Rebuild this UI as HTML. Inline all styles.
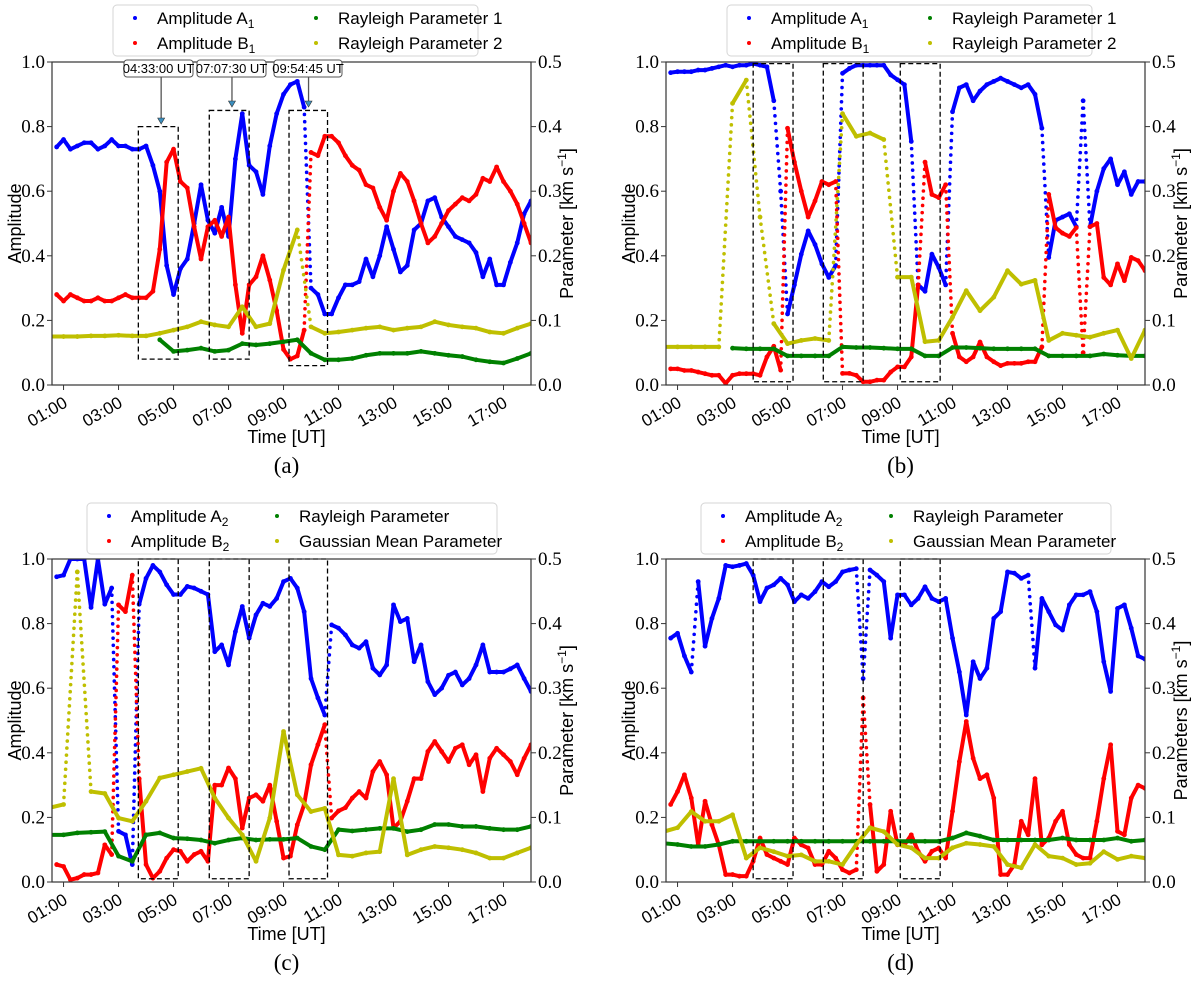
<!DOCTYPE html>
<html><head><meta charset="utf-8">
<style>
html,body{margin:0;padding:0;background:#fff;}
svg{display:block;}
.tk{font-family:"Liberation Serif",serif;font-size:19px;fill:#000;}
.tt{font-family:"Liberation Sans",sans-serif;font-size:17px;fill:#000;}
.lb{font-family:"Liberation Sans",sans-serif;font-size:18px;fill:#000;}
.lg{font-family:"Liberation Sans",sans-serif;font-size:17px;fill:#000;}
.cap{font-family:"Liberation Serif",serif;font-size:23px;fill:#000;}
.an{font-family:"Liberation Sans",sans-serif;font-size:13px;fill:#000;}
</style></head>
<body>
<svg id="fig" width="1200" height="983" viewBox="0 0 1200 983" xmlns="http://www.w3.org/2000/svg"></svg>
<script>
// ---- categories (time in hours, UT) ----
const tAmp = []; for (let k = 0; k < 70; k++) tAmp.push(0.75 + 0.25 * k);
const tPar = []; for (let k = 0; k < 36; k++) tPar.push(0.5 + 0.5 * k);
const timeTicks = [1,3,5,7,9,11,13,15,17];
const timeTickLabels = ["01:00","03:00","05:00","07:00","09:00","11:00","13:00","15:00","17:00"];
const ampTicks = [0,0.2,0.4,0.6,0.8,1.0];
const ampTickLabels = ["0.0","0.2","0.4","0.6","0.8","1.0"];
const parTicks = [0,0.1,0.2,0.3,0.4,0.5];
const parTickLabels = ["0.0","0.1","0.2","0.3","0.4","0.5"];

// ---- panel (a) ----
const aAmpA = [0.737,0.76,0.73,0.74,0.75,0.75,0.73,0.74,0.76,0.74,0.74,0.73,0.73,0.74,0.68,0.6,0.37,0.28,0.36,0.39,0.5,0.62,0.51,0.47,0.55,0.46,0.7,0.84,0.68,0.66,0.59,0.74,0.84,0.9,0.93,0.94,0.86,0.3,0.28,0.22,0.22,0.27,0.31,0.31,0.32,0.39,0.335,0.4,0.49,0.42,0.35,0.37,0.48,0.5,0.57,0.58,0.52,0.49,0.46,0.45,0.44,0.41,0.335,0.39,0.31,0.31,0.38,0.44,0.53,0.57];
const aAmpB = [0.28,0.26,0.28,0.27,0.26,0.26,0.27,0.26,0.26,0.27,0.28,0.27,0.27,0.27,0.29,0.42,0.69,0.73,0.63,0.61,0.49,0.39,0.49,0.51,0.46,0.52,0.31,0.16,0.31,0.335,0.4,0.325,0.23,0.11,0.08,0.09,0.17,0.72,0.71,0.77,0.77,0.75,0.71,0.68,0.665,0.62,0.61,0.55,0.51,0.6,0.655,0.63,0.57,0.5,0.44,0.46,0.5,0.54,0.56,0.58,0.57,0.59,0.64,0.63,0.675,0.63,0.6,0.56,0.5,0.44];
const aPar1 = [null,null,null,null,null,null,null,null,0.07,0.052,0.054,0.057,0.052,0.054,0.064,0.062,0.064,0.067,0.07,0.049,0.039,0.039,0.041,0.046,0.049,0.049,0.049,0.052,0.049,0.046,0.044,0.039,0.036,0.034,0.041,0.049];
const aPar2 = [0.075,0.075,0.075,0.076,0.076,0.077,0.076,0.076,0.08,0.085,0.09,0.098,0.093,0.09,0.121,0.09,0.095,0.178,0.24,0.09,0.08,0.082,0.085,0.088,0.09,0.085,0.088,0.09,0.098,0.093,0.09,0.088,0.082,0.08,0.088,0.095];

// ---- panel (b) ----
const bAmpA = [0.967,0.97,0.97,0.97,0.975,0.975,0.98,0.985,0.99,0.985,0.99,0.99,0.995,0.99,0.985,0.88,0.6,0.22,0.31,0.405,0.477,0.435,0.375,0.333,0.37,0.965,0.98,0.99,0.99,0.99,0.99,0.99,0.96,0.945,0.93,0.754,0.31,0.29,0.405,0.364,0.31,0.846,0.92,0.93,0.88,0.91,0.93,0.94,0.95,0.94,0.93,0.92,0.93,0.9,0.795,0.395,0.51,0.52,0.53,0.49,0.88,0.49,0.6,0.67,0.7,0.62,0.66,0.59,0.63,0.63];
const bAmpB = [0.05,0.05,0.045,0.045,0.04,0.035,0.03,0.03,0.005,0.03,0.035,0.035,0.035,0.03,0.087,0.12,0.046,0.795,0.69,0.6,0.52,0.57,0.63,0.62,0.63,0.036,0.036,0.03,0.01,0.01,0.015,0.015,0.04,0.056,0.056,0.087,0.31,0.69,0.59,0.58,0.62,0.16,0.087,0.072,0.087,0.133,0.087,0.072,0.06,0.067,0.067,0.067,0.072,0.072,0.118,0.59,0.487,0.47,0.46,0.487,0.1,0.49,0.5,0.333,0.31,0.375,0.323,0.395,0.385,0.354];
const bPar1 = [null,null,null,null,null,0.057,0.056,0.056,0.056,0.045,0.045,0.045,0.045,0.059,0.058,0.058,0.057,0.056,0.056,0.045,0.045,0.058,0.058,0.057,0.056,0.056,0.056,0.056,0.045,0.045,0.045,0.045,0.048,0.046,0.045,0.045];
const bPar2 = [0.059,0.059,0.059,0.059,0.059,0.436,0.472,0.26,0.095,0.064,0.069,0.072,0.069,0.42,0.385,0.39,0.38,0.167,0.167,0.067,0.069,0.105,0.146,0.115,0.136,0.177,0.156,0.162,0.069,0.08,0.077,0.074,0.08,0.085,0.041,0.085];

// ---- panel (c) ----
const cAmpA = [0.945,0.95,1.0,1.0,1.0,0.85,1.0,0.86,0.91,0.157,0.146,0.054,0.86,0.94,0.98,0.96,0.92,0.89,0.89,0.915,0.91,0.9,0.89,0.713,0.734,0.672,0.775,0.853,0.755,0.827,0.863,0.853,0.878,0.93,0.94,0.91,0.837,0.63,0.57,0.517,0.796,0.786,0.765,0.734,0.724,0.744,0.662,0.641,0.672,0.858,0.806,0.816,0.682,0.734,0.62,0.58,0.6,0.64,0.65,0.61,0.63,0.672,0.734,0.65,0.65,0.65,0.66,0.672,0.63,0.59];
const cAmpB = [0.054,0.048,0.007,0.012,0.023,0.023,0.028,0.115,0.085,0.858,0.837,0.95,0.32,0.054,0.012,0.033,0.074,0.1,0.095,0.064,0.085,0.095,0.064,0.3,0.3,0.353,0.32,0.167,0.26,0.27,0.25,0.3,0.188,0.074,0.08,0.177,0.24,0.363,0.425,0.487,0.198,0.22,0.23,0.26,0.28,0.26,0.342,0.373,0.332,0.167,0.188,0.25,0.32,0.32,0.404,0.435,0.404,0.373,0.414,0.425,0.363,0.394,0.28,0.383,0.414,0.394,0.373,0.332,0.383,0.425];
const cPar1 = [0.073,0.073,0.076,0.077,0.078,0.04,0.032,0.073,0.076,0.068,0.067,0.065,0.06,0.065,0.068,0.065,0.066,0.066,0.068,0.055,0.05,0.081,0.079,0.081,0.083,0.083,0.078,0.081,0.089,0.089,0.086,0.086,0.083,0.081,0.081,0.086];
const cPar2 = [0.115,0.12,0.48,0.14,0.137,0.099,0.094,0.125,0.161,0.166,0.171,0.176,0.13,0.099,0.073,0.032,0.099,0.233,0.135,0.109,0.114,0.042,0.04,0.045,0.047,0.16,0.042,0.05,0.055,0.053,0.05,0.045,0.037,0.037,0.045,0.053];

// ---- panel (d) ----
const dAmpA = [0.755,0.77,0.7,0.65,0.93,0.73,0.816,0.878,0.98,0.976,0.98,0.986,0.95,0.868,0.91,0.92,0.94,0.92,0.868,0.889,0.878,0.899,0.93,0.914,0.93,0.96,0.966,0.97,0.63,0.966,0.95,0.93,0.755,0.889,0.889,0.858,0.878,0.914,0.878,0.868,0.878,0.755,0.65,0.517,0.682,0.63,0.662,0.816,0.837,0.96,0.956,0.94,0.95,0.662,0.878,0.837,0.796,0.78,0.858,0.889,0.889,0.899,0.837,0.682,0.59,0.847,0.858,0.786,0.7,0.69];
const dAmpB = [0.24,0.28,0.332,0.26,0.115,0.25,0.177,0.115,0.023,0.023,0.018,0.018,0.064,0.136,0.085,0.074,0.064,0.054,0.136,0.115,0.105,0.054,0.054,0.095,0.074,0.038,0.028,0.038,0.57,0.24,0.033,0.054,0.219,0.115,0.115,0.146,0.095,0.064,0.095,0.105,0.074,0.219,0.373,0.497,0.383,0.32,0.332,0.26,0.023,0.023,0.054,0.188,0.146,0.32,0.115,0.136,0.188,0.219,0.115,0.085,0.074,0.074,0.188,0.32,0.425,0.157,0.146,0.26,0.3,0.29];
const dPar1 = [0.06,0.058,0.055,0.055,0.058,0.063,0.063,0.063,0.063,0.063,0.063,0.063,0.063,0.063,0.063,0.063,0.063,0.063,0.063,0.063,0.063,0.068,0.076,0.071,0.065,0.065,0.065,0.065,0.065,0.068,0.065,0.065,0.065,0.068,0.063,0.065];
const dPar2 = [0.078,0.084,0.109,0.094,0.094,0.104,0.037,0.053,0.047,0.04,0.042,0.032,0.032,0.027,0.058,0.084,0.078,0.058,0.053,0.037,0.037,0.053,0.06,0.058,0.055,0.027,0.022,0.058,0.04,0.037,0.027,0.029,0.047,0.035,0.04,0.037];

const NS = "http://www.w3.org/2000/svg";
const svg = document.getElementById("fig");
function mk(tag, attrs, parent) {
  const e = document.createElementNS(NS, tag);
  for (const k in attrs) e.setAttribute(k, attrs[k]);
  (parent || svg).appendChild(e);
  return e;
}
const COL = {A:"#0000ff", B:"#ff0000", P1:"#008000", P2:"#bfbf00"};
const T0 = 0.58, T1 = 18.0;

const panels = [
  {id:"a", L:52, R:531, T:62, B:385, A:aAmpA, Bv:aAmpB, P1:aPar1, P2:aPar2,
   leg:["Amplitude A","Amplitude B","Rayleigh Parameter 1","Rayleigh Parameter 2"], sub:"1", right:"Parameter",
   boxes:[[3.72,5.17,0.8],[6.3,7.75,0.85],[9.2,10.6,0.85]], bb:[0.08,0.08,0.06]},
  {id:"b", L:666, R:1145, T:62, B:385, A:bAmpA, Bv:bAmpB, P1:bPar1, P2:bPar2,
   leg:["Amplitude A","Amplitude B","Rayleigh Parameter 1","Rayleigh Parameter 2"], sub:"1", right:"Parameter",
   boxes:[[3.75,5.2,0.995],[6.3,7.75,0.995],[9.1,10.55,0.995]], bb:[0.01,0.01,0.01]},
  {id:"c", L:52, R:531, T:559, B:882, A:cAmpA, Bv:cAmpB, P1:cPar1, P2:cPar2,
   leg:["Amplitude A","Amplitude B","Rayleigh Parameter","Gaussian Mean Parameter"], sub:"2", right:"Parameter",
   boxes:[[3.72,5.17,1.0],[6.3,7.75,1.0],[9.2,10.6,1.0]], bb:[0.01,0.01,0.01]},
  {id:"d", L:666, R:1145, T:559, B:882, A:dAmpA, Bv:dAmpB, P1:dPar1, P2:dPar2,
   leg:["Amplitude A","Amplitude B","Rayleigh Parameter","Gaussian Mean Parameter"], sub:"2", right:"Parameters",
   boxes:[[3.75,5.2,1.0],[6.3,7.75,1.0],[9.1,10.55,1.0]], bb:[0.01,0.01,0.01]}
];

function drawSeries(g, times, vals, xf, yf, color, name) {
  const sg = mk("g", {}, g);
  
  
  let prev = null;
  for (let i = 0; i < vals.length; i++) {
    if (vals[i] === null) { prev = null; continue; }
    const x = xf(times[i]), y = yf(vals[i]);
    if (prev) {
      const dy = Math.abs(prev[1] - y);
      if (dy < 90) {
        const ln = mk("line", {x1:prev[0], y1:prev[1], x2:x, y2:y, stroke:color, "stroke-width":4, "stroke-linecap":"round"}, sg);
        
        
      } else {
        const n = Math.floor(dy / 7);
        for (let k = 1; k < n; k++) {
          const f = k / n;
          const d = mk("circle", {cx:prev[0] + (x - prev[0]) * f, cy:prev[1] + (y - prev[1]) * f, r:1.8, fill:color}, sg);
          
          
        }
      }
    }
    const c = mk("circle", {cx:x, cy:y, r:2.4, fill:color}, sg);
    
    
    prev = [x, y];
  }
}

panels.forEach(p => {
  const g = mk("g", {});
  
  
  const xf = t => p.L + (t - T0) / (T1 - T0) * (p.R - p.L);
  const yA = v => p.B - v * (p.B - p.T);
  const yP = v => p.B - v / 0.5 * (p.B - p.T);
  const cp = mk("clipPath", {id:"clip-" + p.id}, g);
  mk("rect", {x:p.L, y:p.T, width:p.R - p.L, height:p.B - p.T}, cp);
  const plot = mk("g", {"clip-path":"url(#clip-" + p.id + ")"}, g);
  
  
  drawSeries(plot, tAmp, p.A, xf, yA, COL.A, 'series-amplitude-a-' + p.id);
  drawSeries(plot, tAmp, p.Bv, xf, yA, COL.B, 'series-amplitude-b-' + p.id);
  drawSeries(plot, tPar, p.P1, xf, yP, COL.P1, 'series-parameter-1-' + p.id);
  drawSeries(plot, tPar, p.P2, xf, yP, COL.P2, 'series-parameter-2-' + p.id);
  p.boxes.forEach((b, i) => {
    const r = mk("rect", {x:xf(b[0]), y:yA(b[2]), width:xf(b[1]) - xf(b[0]), height:yA(p.bb[i]) - yA(b[2]), fill:"none", stroke:"#000", "stroke-width":1.3, "stroke-dasharray":"5,3"}, g);
    
    
  });
  const fr = mk("rect", {x:p.L, y:p.T, width:p.R - p.L, height:p.B - p.T, fill:"none", stroke:"#333", "stroke-width":1.2}, g);
  
  
  ampTicks.forEach((v, i) => {
    const y = yA(v);
    mk("line", {x1:p.L - 5, y1:y, x2:p.L, y2:y, stroke:"#333", "stroke-width":1}, g);
    const t = mk("text", {x:p.L - 7, y:y + 6, "text-anchor":"end", class:"tk"}, g);
    t.textContent = ampTickLabels[i];
    
    
  });
  parTicks.forEach((v, i) => {
    const y = yP(v);
    mk("line", {x1:p.R, y1:y, x2:p.R + 5, y2:y, stroke:"#333", "stroke-width":1}, g);
    const t = mk("text", {x:p.R + 7, y:y + 6, "text-anchor":"start", class:"tk"}, g);
    t.textContent = parTickLabels[i];
    
    
  });
  timeTicks.forEach((v, i) => {
    const x = xf(v);
    mk("line", {x1:x, y1:p.B, x2:x, y2:p.B + 5, stroke:"#333", "stroke-width":1}, g);
    const t = mk("text", {x:0, y:0, "text-anchor":"end", class:"tt", transform:"translate(" + (x + 5) + "," + (p.B + 21) + ") rotate(-30)"}, g);
    t.textContent = timeTickLabels[i];
    
    
  });
  const xl = mk("text", {x:(p.L + p.R) / 2 - 5, y:p.B + 58, "text-anchor":"middle", class:"lb"}, g);
  xl.textContent = "Time [UT]";
  
  
  const yl = mk("text", {x:0, y:0, "text-anchor":"middle", class:"lb", transform:"translate(" + (p.L - 31) + "," + ((p.T + p.B) / 2) + ") rotate(-90)"}, g);
  yl.textContent = "Amplitude";
  
  
  const yr = mk("text", {x:0, y:0, "text-anchor":"middle", class:"lb", transform:"translate(" + (p.R + 42) + "," + ((p.T + p.B) / 2) + ") rotate(-90)"}, g);
  yr.innerHTML = p.right + ' [km s<tspan dy="-7" font-size="12">−1</tspan><tspan dy="7">]</tspan>';
  
  
  const lx = p.L + (p.id === "a" || p.id === "b" ? 61 : 35);
  const lw = (p.id === "a" || p.id === "b") ? 365 : 410;
  const ly = p.id === "a" || p.id === "b" ? 5 : 503;
  const lg = mk("g", {}, g);
  
  
  mk("rect", {x:lx, y:ly, width:lw, height:51, rx:4, fill:"#fff", stroke:"#d5d5d5", "stroke-width":1}, lg);
  const cols = [COL.A, COL.B, COL.P1, COL.P2];
  const c2 = (p.id === "a" || p.id === "b") ? 181 : 168;
  for (let i = 0; i < 4; i++) {
    const cx = lx + 14 + (i >= 2 ? c2 : 0);
    const cy = ly + 13 + (i % 2) * 25;
    const e = mk("g", {}, lg);
    
    
    mk("circle", {cx:cx + 8, cy:cy, r:2, fill:cols[i]}, e);
    const t = mk("text", {x:cx + 30, y:cy + 6, class:"lg"}, e);
    if (i < 2) t.innerHTML = p.leg[i] + '<tspan dy="4" font-size="12">' + p.sub + '</tspan>';
    else t.textContent = p.leg[i];
  }
  const cap = mk("text", {x:(p.L + p.R) / 2 - 5, y:p.B + 88, "text-anchor":"middle", class:"cap"}, g);
  cap.textContent = "(" + p.id + ")";
  
  

  if (p.id === "a") {
    const ann = [["04:33:00 UT", 4.55, 124, 193, 124], ["07:07:30 UT", 7.125, 197, 266, 107], ["09:54:45 UT", 9.91, 274, 342, 107]];
    ann.forEach(a => {
      const ag = mk("g", {}, g);
      
      
      const x = xf(a[1]);
      mk("line", {x1:x, y1:77, x2:x, y2:a[4] - 5, stroke:"#555", "stroke-width":1.3}, ag);
      mk("path", {d:"M" + (x - 3.5) + "," + (a[4] - 6) + " L" + (x + 3.5) + "," + (a[4] - 6) + " L" + x + "," + a[4] + " Z", fill:"#3b8fbf", stroke:"#333", "stroke-width":0.6}, ag);
      mk("rect", {x:a[2], y:60, width:a[3] - a[2], height:17, rx:3, fill:"#fff", stroke:"#555", "stroke-width":1}, ag);
      const t = mk("text", {x:(a[2] + a[3]) / 2, y:73, "text-anchor":"middle", class:"an"}, ag);
      t.textContent = a[0];
    });
  }
});
</script>
</body></html>
